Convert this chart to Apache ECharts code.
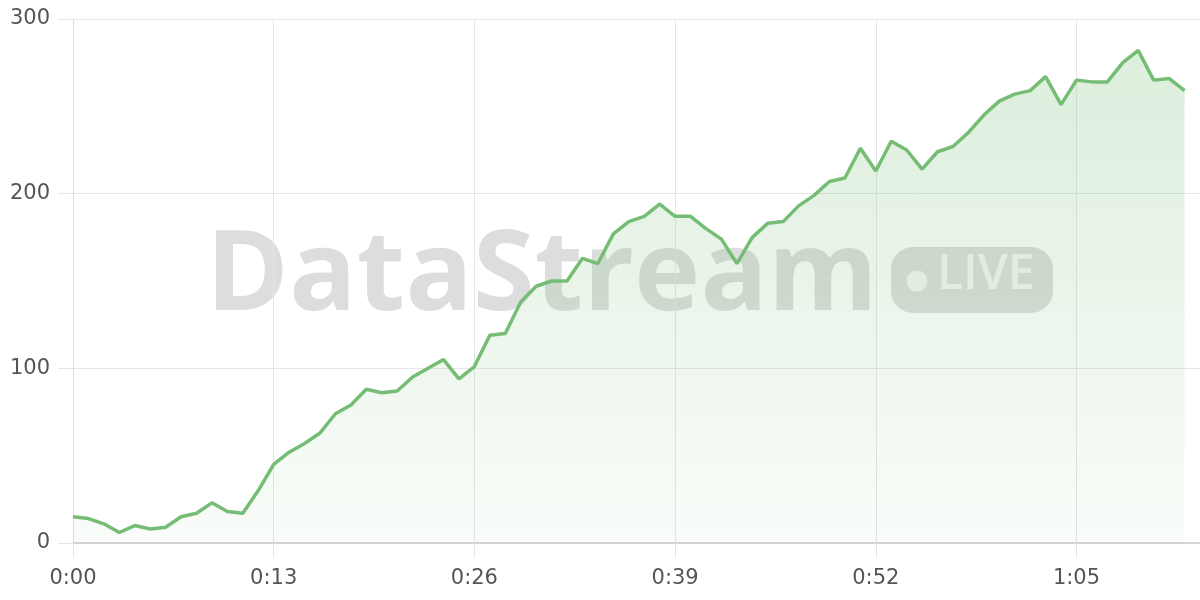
<!DOCTYPE html>
<html>
<head>
<meta charset="utf-8">
<script src="https://cdn.jsdelivr.net/npm/echarts@6/dist/echarts.min.js"></script>
<style>html,body{margin:0;padding:0;background:#fff}#c{width:1200px;height:600px}</style>
</head>
<body>
<div id="c"></div>
<script>
const categories = ["0:00","0:01","0:02","0:03","0:04","0:05","0:06","0:07","0:08","0:09",
"0:10","0:11","0:12","0:13","0:14","0:15","0:16","0:17","0:18","0:19",
"0:20","0:21","0:22","0:23","0:24","0:25","0:26","0:27","0:28","0:29",
"0:30","0:31","0:32","0:33","0:34","0:35","0:36","0:37","0:38","0:39",
"0:40","0:41","0:42","0:43","0:44","0:45","0:46","0:47","0:48","0:49",
"0:50","0:51","0:52","0:53","0:54","0:55","0:56","0:57","0:58","0:59",
"1:00","1:01","1:02","1:03","1:04","1:05","1:06","1:07","1:08","1:09",
"1:10","1:11","1:12","1:13"];
const values = [15,14,11,6,10,8,9,15,17,23,
18,17,30,45,52,57,63,74,79,88,
86,87,95,100,105,94,101,119,120,138,
147,150,150,163,160,177,184,187,194,187,
187,180,174,160,175,183,184,193,199,207,
209,226,213,230,225,214,224,227,235,245,
253,257,259,267,251,265,264,264,275,282,
265,266,259];
const yTicks = [0,100,200,300];

const chart = echarts.init(document.getElementById('c'));
chart.setOption({
  animation: false,
  grid: {left: 73, right: 0, top: 19, bottom: 57},
  graphic: [
    {type: 'text', z: -10, left: 206, top: 222,
     style: {text: 'DataStream', font: 'bold 112px "Open Sans", sans-serif', fill: 'rgba(0,0,0,0.135)'}},
    {type: 'rect', z: -10, shape: {x: 891, y: 247, width: 162, height: 66, r: 22},
     style: {fill: 'rgba(0,0,0,0.135)'}},
    {type: 'circle', z: -9, shape: {cx: 917, cy: 281, r: 10.5},
     style: {fill: 'rgba(255,255,255,0.72)'}},
    {type: 'text', z: -9, left: 937, top: 251,
     style: {text: 'LIVE', font: '600 48px "Open Sans", sans-serif', fill: 'rgba(255,255,255,0.72)'}}
  ],
  xAxis: {
    type: 'category', data: categories, boundaryGap: false,
    axisLine: {lineStyle: {color: '#cccccc', width: 1.5}},
    axisTick: {show: true, interval: 12, length: 15, lineStyle: {color: '#e6e6e6'}},
    axisLabel: {interval: 12, color: '#555', fontSize: 21, margin: 25, fontFamily: '"DejaVu Sans", sans-serif'},
    splitLine: {show: true, interval: 12, lineStyle: {color: '#e6e6e6'}}
  },
  yAxis: {
    type: 'value', min: 0, max: 300, interval: 100,
    axisLine: {show: true, lineStyle: {color: '#dcdcdc'}},
    axisTick: {show: true, length: 15, lineStyle: {color: '#e6e6e6'}},
    axisLabel: {color: '#555', fontSize: 21, margin: 23, fontFamily: '"DejaVu Sans", sans-serif',
      formatter: v => yTicks.includes(v) ? String(v) : ''},
    splitLine: {lineStyle: {color: '#e6e6e6'}}
  },
  series: [{
    type: 'line', data: values, symbol: 'none', z: 3,
    lineStyle: {color: '#75bd75', width: 3.5},
    areaStyle: {color: new echarts.graphic.LinearGradient(0, 0, 0, 1, [
      {offset: 0, color: 'rgba(116,188,116,0.36)'},
      {offset: 1, color: 'rgba(116,188,116,0.06)'}
    ])}
  }]
});
</script>
</body>
</html>
